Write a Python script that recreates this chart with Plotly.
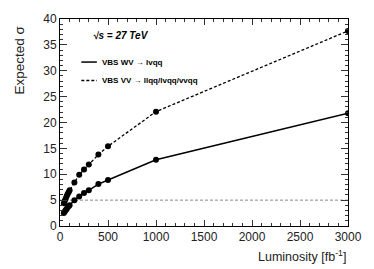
import plotly.graph_objects as go

lumi = [40, 50, 60, 70, 80, 90, 100, 150, 200, 250, 300, 400, 500, 1000, 3000]
sig_wv = [2.5, 2.8, 3.1, 3.3, 3.6, 3.8, 4.0, 5.0, 5.7, 6.4, 6.9, 8.1, 8.9, 12.8, 21.8]
sig_vv = [4.4, 4.9, 5.3, 5.8, 6.2, 6.5, 6.9, 8.4, 9.9, 10.9, 11.9, 13.8, 15.4, 22.1, 37.7]
threshold = 5
label_wv = "VBS WV → lvqq"
label_vv = "VBS VV → llqq/lvqq/vvqq"
energy_text = "√s = 27 TeV"

FONT = "Liberation Sans, Arial, sans-serif"

fig = go.Figure()
fig.add_trace(go.Scatter(x=lumi, y=sig_vv, mode="lines+markers",
                         line=dict(color="black", width=1.3, dash="3px,2px"),
                         marker=dict(color="black", size=6), showlegend=False))
fig.add_trace(go.Scatter(x=lumi, y=sig_wv, mode="lines+markers",
                         line=dict(color="black", width=1.5),
                         marker=dict(color="black", size=6), showlegend=False))

fig.add_shape(type="line", xref="paper", yref="y", x0=0, x1=1, y0=threshold, y1=threshold,
              line=dict(color="#888", width=1, dash="3px,2px"), layer="below")

# legend drawn manually
fig.add_shape(type="line", xref="paper", yref="paper", x0=0.074, x1=0.128, y0=0.792, y1=0.792,
              line=dict(color="black", width=1.5))
fig.add_shape(type="line", xref="paper", yref="paper", x0=0.074, x1=0.128, y0=0.703, y1=0.703,
              line=dict(color="black", width=1.3, dash="3px,2px"))
fig.add_annotation(xref="paper", yref="paper", x=0.138, y=0.792, xanchor="left", yanchor="middle",
                   text="<b>" + label_wv + "</b>", showarrow=False,
                   font=dict(family=FONT, size=8, color="black"))
fig.add_annotation(xref="paper", yref="paper", x=0.138, y=0.703, xanchor="left", yanchor="middle",
                   text="<b>" + label_vv + "</b>", showarrow=False,
                   font=dict(family=FONT, size=8, color="black"))
fig.add_annotation(xref="paper", yref="paper", x=0.108, y=0.92, xanchor="left", yanchor="middle",
                   text="<b><i>" + energy_text + "</i></b>", showarrow=False,
                   font=dict(family=FONT, size=10, color="black"))

fig.add_annotation(xref="paper", yref="paper", x=-0.139, y=0.98, xanchor="center", yanchor="top",
                   text="Expected σ", textangle=-90, showarrow=False,
                   font=dict(family=FONT, size=13.5, color="#222"))
fig.add_annotation(xref="paper", yref="paper", x=1.0, y=-0.146, xanchor="right", yanchor="middle",
                   text="Luminosity [fb<sup>-1</sup>]", showarrow=False,
                   font=dict(family=FONT, size=12.5, color="#222"))

axis_common = dict(showgrid=False, zeroline=False, showline=True, linecolor="black", linewidth=1,
                   ticks="inside", mirror="allticks", tickcolor="#333",
                   tickfont=dict(family=FONT, size=12, color="#222"))
fig.update_xaxes(range=[0, 3000], dtick=500, ticklen=6,
                 minor=dict(dtick=100, ticks="inside", ticklen=3, tickcolor="#333"),
                 **axis_common)
fig.update_yaxes(range=[0, 40], dtick=5, ticklen=7,
                 minor=dict(dtick=1, ticks="inside", ticklen=3, tickcolor="#333"),
                 **axis_common)

fig.update_layout(width=374, height=269, margin=dict(l=60, r=18, t=13, b=43),
                  plot_bgcolor="white", paper_bgcolor="white",
                  font=dict(family=FONT, color="#222"))

# remove the default 8px page margin so the 374x269 figure fills the window exactly
fig.write_html("out.html", config={"displayModeBar": False},
               post_script="document.body.style.margin='0px';document.body.style.overflow='hidden';")
